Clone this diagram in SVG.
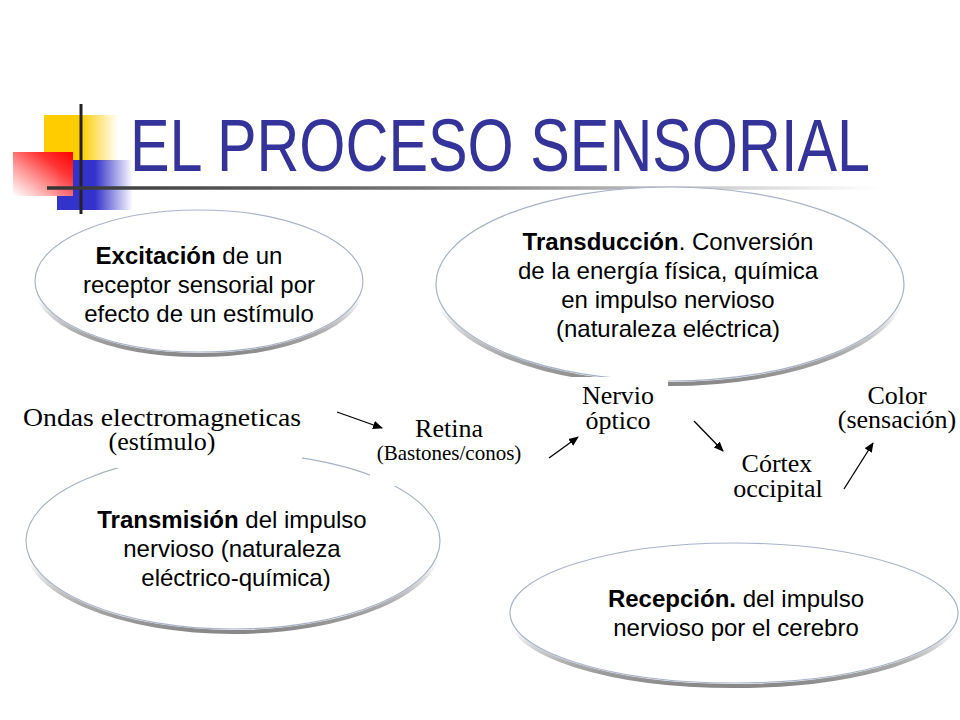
<svg xmlns="http://www.w3.org/2000/svg" width="960" height="720" viewBox="0 0 960 720">
<defs>
<linearGradient id="gYellow" x1="0" y1="0" x2="1" y2="0">
<stop offset="0" stop-color="#FFCC00"/><stop offset="0.5" stop-color="#FFCC00"/><stop offset="1" stop-color="#FFCC00" stop-opacity="0"/>
</linearGradient>
<linearGradient id="gBlue" x1="0" y1="0" x2="1" y2="0">
<stop offset="0" stop-color="#3333CC"/><stop offset="0.5" stop-color="#3333CC"/><stop offset="1" stop-color="#3333CC" stop-opacity="0"/>
</linearGradient>
<linearGradient id="gRed" x1="1" y1="0" x2="0" y2="1">
<stop offset="0" stop-color="#FF0000"/><stop offset="0.3" stop-color="#FF3333"/><stop offset="1" stop-color="#FFFFFF" stop-opacity="0.9"/>
</linearGradient>
<linearGradient id="gRule" gradientUnits="userSpaceOnUse" x1="47" y1="0" x2="880" y2="0">
<stop offset="0" stop-color="#333333"/><stop offset="0.45" stop-color="#777777"/><stop offset="1" stop-color="#FFFFFF"/>
</linearGradient>
<linearGradient id="gShadow" x1="0" y1="0" x2="0" y2="1">
<stop offset="0" stop-color="#999999" stop-opacity="0"/><stop offset="0.6" stop-color="#999999" stop-opacity="0"/><stop offset="0.85" stop-color="#999999" stop-opacity="0.85"/><stop offset="1" stop-color="#888888"/>
</linearGradient>
<marker id="arr" viewBox="0 0 10 10" refX="9" refY="5" markerWidth="10" markerHeight="10" markerUnits="userSpaceOnUse" orient="auto">
<path d="M0,0.8 L10,5 L0,9.2 Z" fill="#000"/>
</marker>
</defs>
<style>
.shadow{fill:none;stroke:url(#gShadow);stroke-width:4}
.ell{fill:#fff;stroke:#a7b2c8;stroke-width:1.2}
.sans{font-family:"Liberation Sans",Arial,sans-serif;font-size:24px;fill:#000;text-anchor:middle}
.b{font-weight:bold}
.serif{font-family:"Liberation Serif","Times New Roman",serif;font-size:26px;fill:#000;text-anchor:middle}
.small{font-size:21px}
.conn{stroke:#000;stroke-width:1.3;fill:none;marker-end:url(#arr)}
.box{fill:#fff}
</style>
<rect width="960" height="720" fill="#fff"/>

<g id="decoration">
<rect x="44" y="115" width="74" height="46" fill="url(#gYellow)"/>
<rect x="57" y="160" width="76" height="50" fill="url(#gBlue)"/>
<rect x="13" y="152" width="60" height="44" fill="url(#gRed)"/>
<line x1="81" y1="104" x2="81" y2="214" stroke="#222" stroke-width="3"/>
<line x1="47" y1="188" x2="880" y2="188" stroke="url(#gRule)" stroke-width="3.5"/>
</g>

<g id="title">
<text x="130" y="171" font-family="Liberation Sans, Arial, sans-serif" font-size="74" fill="#333399" textLength="740" lengthAdjust="spacingAndGlyphs">EL PROCESO SENSORIAL</text>
</g>

<g id="excitacion">
<ellipse class="shadow" cx="199" cy="284" rx="164" ry="71"/>
<ellipse class="ell" cx="199" cy="281" rx="164" ry="71"/>
<text class="sans" x="189" y="264"><tspan class="b">Excitación</tspan> de un</text>
<text class="sans" x="199" y="293">receptor sensorial por</text>
<text class="sans" x="199" y="322">efecto de un estímulo</text>
</g>

<g id="transduccion">
<ellipse class="shadow" cx="670" cy="287" rx="234" ry="97"/>
<ellipse class="ell" cx="670" cy="284" rx="234" ry="97"/>
<text class="sans" x="668" y="250"><tspan class="b">Transducción</tspan>. Conversión</text>
<text class="sans" x="668" y="279">de la energía física, química</text>
<text class="sans" x="668" y="308">en impulso nervioso</text>
<text class="sans" x="668" y="337">(naturaleza eléctrica)</text>
</g>

<g id="transmision">
<ellipse class="shadow" cx="233" cy="544" rx="207" ry="88"/>
<ellipse class="ell" cx="233" cy="541" rx="207" ry="88"/>
<text class="sans" x="232" y="528"><tspan class="b">Transmisión</tspan> del impulso</text>
<text class="sans" x="232" y="557">nervioso (naturaleza</text>
<text class="sans" x="236" y="586">eléctrico-química)</text>
</g>

<g id="recepcion">
<ellipse class="shadow" cx="734" cy="616" rx="224" ry="70"/>
<ellipse class="ell" cx="734" cy="613" rx="224" ry="70"/>
<text class="sans" x="736" y="607"><tspan class="b">Recepción.</tspan> del impulso</text>
<text class="sans" x="736" y="636">nervioso por el cerebro</text>
</g>

<g id="ondas">
<rect class="box" x="10" y="396" width="292" height="72"/>
<text class="serif" x="162" y="426" textLength="278" lengthAdjust="spacingAndGlyphs">Ondas electromagneticas</text>
<text class="serif" x="162" y="450">(estímulo)</text>
</g>

<g id="retina">
<rect class="box" x="370" y="408" width="156" height="78"/>
<text class="serif" x="449" y="437">Retina</text>
<text class="serif small" x="449" y="460">(Bastones/conos)</text>
</g>

<g id="nervio">
<rect class="box" x="570" y="377" width="98" height="62"/>
<text class="serif" x="618" y="404">Nervio</text>
<text class="serif" x="618" y="429">óptico</text>
</g>

<g id="cortex">
<text class="serif" x="777" y="472">Córtex</text>
<text class="serif" x="778" y="497">occipital</text>
</g>

<g id="color">
<text class="serif" x="897" y="404">Color</text>
<text class="serif" x="897" y="428">(sensación)</text>
</g>

<g id="connectors">
<line class="conn" x1="337" y1="412" x2="382" y2="428"/>
<line class="conn" x1="549" y1="458" x2="578" y2="437"/>
<line class="conn" x1="694" y1="421" x2="723" y2="451"/>
<line class="conn" x1="844" y1="489" x2="873" y2="443"/>
</g>
</svg>
